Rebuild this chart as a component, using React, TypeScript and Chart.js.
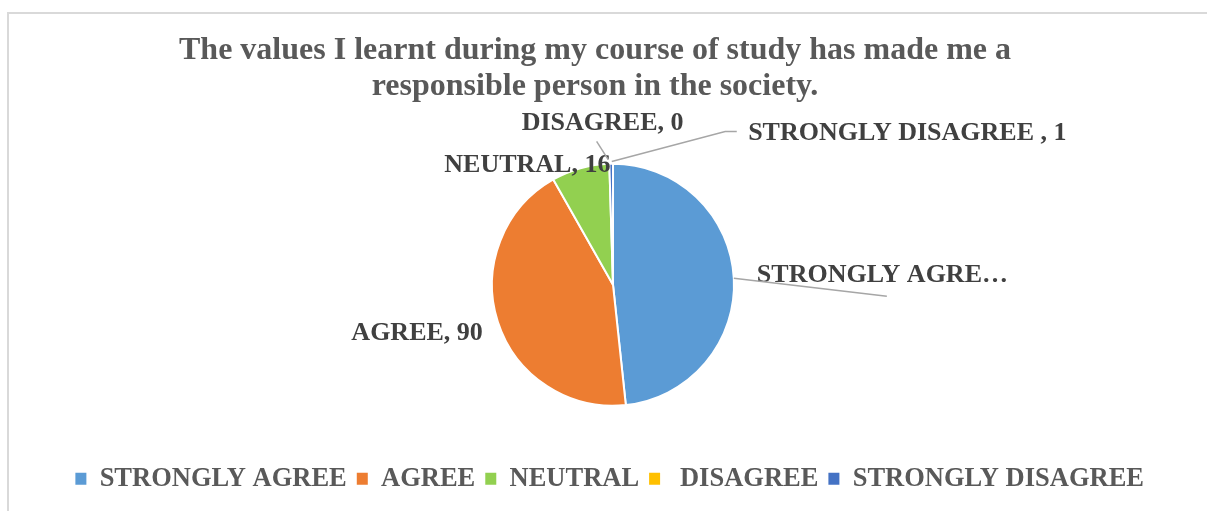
import React, { useEffect, useRef } from "react";
import { Chart, registerables } from "chart.js";

Chart.register(...registerables);

const categories = ["STRONGLY AGREE", "AGREE", "NEUTRAL", " DISAGREE", "STRONGLY DISAGREE "];
const values = [100, 90, 16, 0, 1];
const colors = ["#5b9bd5", "#ed7d31", "#92d050", "#ffc000", "#4472c4"];
const titleLines = [
  "The values I learnt during my course of study has made me a",
  "responsible person in the society.",
];

// label placement relative to each slice's outer mid-point (styling only)
const labelLayout: any[] = [
  { dx: 23, dy: -3, align: "left", maxWidth: 262, leader: [[0, 0], [153, 18]] },
  { dx: -15, dy: 11, align: "right" },
  { dx: -53, dy: -2.5, align: "center" },
  { dx: -10, dy: -41, align: "center", leader: [[-12.7, -22.4], [-1.1, -4.1]] },
  { dx: 137, dy: -30, align: "left", leader: [[0.6, -2.3], [114, -32.3], [125.6, -32.3]] },
];

const FONT = "'Liberation Serif', 'Times New Roman', serif";

function fitText(ctx: CanvasRenderingContext2D, text: string, maxWidth?: number) {
  if (!maxWidth || ctx.measureText(text).width <= maxWidth) return text;
  let t = text;
  while (t.length > 0 && ctx.measureText(t + "…").width > maxWidth) t = t.slice(0, -1);
  return t + "…";
}

const framePlugin = {
  id: "frame",
  beforeDraw(chart: any) {
    const ctx = chart.ctx;
    ctx.save();
    ctx.fillStyle = "#ffffff";
    ctx.fillRect(0, 0, chart.width, chart.height);
    ctx.strokeStyle = "#d9d9d9";
    ctx.lineWidth = 2;
    ctx.beginPath();
    ctx.moveTo(8, chart.height);
    ctx.lineTo(8, 13);
    ctx.lineTo(chart.width, 13);
    ctx.stroke();
    ctx.restore();
  },
};

const titlePlugin = {
  id: "customTitle",
  afterDraw(chart: any) {
    const ctx = chart.ctx;
    ctx.save();
    ctx.font = `bold 32px ${FONT}`;
    ctx.fillStyle = "#595959";
    ctx.textAlign = "center";
    ctx.textBaseline = "middle";
    const cx = (chart.chartArea.left + chart.chartArea.right) / 2 - 18;
    titleLines.forEach((line, i) => ctx.fillText(line, cx, 51 + i * 36));
    ctx.restore();
  },
};

const labelPlugin = {
  id: "sliceLabels",
  afterDatasetsDraw(chart: any) {
    const ctx = chart.ctx;
    const meta = chart.getDatasetMeta(0);
    ctx.save();
    ctx.font = `bold 26px ${FONT}`;
    ctx.textBaseline = "middle";
    meta.data.forEach((arc: any, i: number) => {
      const p = arc.getProps(["x", "y", "startAngle", "endAngle", "outerRadius"], true);
      const mid = (p.startAngle + p.endAngle) / 2;
      const ax = p.x + Math.cos(mid) * p.outerRadius;
      const ay = p.y + Math.sin(mid) * p.outerRadius;
      const lay = labelLayout[i];
      const text = fitText(ctx, `${categories[i]}, ${values[i]}`, lay.maxWidth);
      ctx.fillStyle = "#404040";
      ctx.textAlign = lay.align;
      ctx.fillText(text, ax + lay.dx, ay + lay.dy);
      if (lay.leader) {
        ctx.strokeStyle = "#a6a6a6";
        ctx.lineWidth = 1.5;
        ctx.beginPath();
        lay.leader.forEach((pt: number[], k: number) => {
          if (k === 0) ctx.moveTo(ax + pt[0], ay + pt[1]);
          else ctx.lineTo(ax + pt[0], ay + pt[1]);
        });
        ctx.stroke();
      }
    });
    ctx.restore();
  },
};

export default function App() {
  const ref = useRef<HTMLCanvasElement | null>(null);
  useEffect(() => {
    if (!ref.current) return;
    Chart.defaults.font.family = FONT;
    const baseGen = (Chart as any).overrides.pie.plugins.legend.labels.generateLabels;
    const chart = new Chart(ref.current, {
      type: "pie",
      data: {
        labels: categories,
        datasets: [
          {
            data: values,
            backgroundColor: colors,
            borderColor: "#ffffff",
            borderWidth: 2,
            radius: 121,
          } as any,
        ],
      },
      options: {
        responsive: true,
        maintainAspectRatio: false,
        animation: false,
        rotation: 0,
        layout: { padding: { top: 114, bottom: 9, left: 19, right: 0 } },
        plugins: {
          title: { display: false },
          tooltip: { enabled: false },
          legend: {
            position: "bottom",
            labels: {
              font: { family: FONT, size: 26.5, weight: "bold" },
              color: "#595959",
              boxWidth: 11,
              boxHeight: 12,
              padding: 10,
              generateLabels: (c: any) =>
                baseGen(c).map((l: any) => ({ ...l, lineWidth: 0, strokeStyle: l.fillStyle })),
            },
          },
        },
      } as any,
      plugins: [framePlugin, titlePlugin, labelPlugin],
    });
    return () => chart.destroy();
  }, []);
  return (
    <div style={{ position: "fixed", left: 0, top: 0, width: 1207, height: 511, background: "#fff" }}>
      <canvas ref={ref} style={{ width: 1207, height: 511 }} />
    </div>
  );
}
